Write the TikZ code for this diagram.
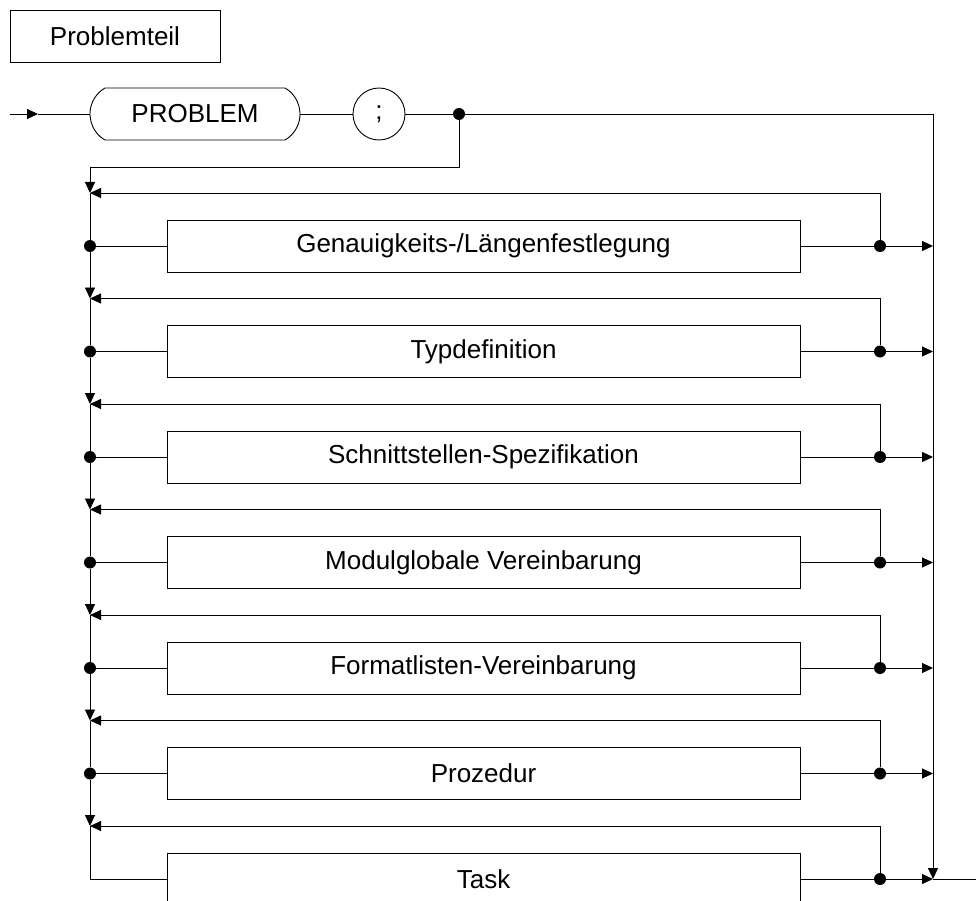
\documentclass[tikz,border=0pt]{standalone}
\usepackage{fontspec}
\setmainfont{Liberation Sans}
\usetikzlibrary{arrows.meta,shapes.misc}

\begin{document}
\begin{tikzpicture}[x=1pt,y=-1pt,
  every node/.style={font=\fontsize{26}{31}\selectfont, inner sep=0pt},
  line/.style={draw=black, line width=0.9pt},
  arr/.style={line, -{Triangle[length=11pt,width=10pt]}},
  nonterm/.style={rectangle, draw=black, line width=0.9pt, minimum width=633pt, minimum height=52pt},
  titlebox/.style={rectangle, draw=black, line width=0.9pt, minimum width=210pt, minimum height=52pt},
  keyword/.style={rounded rectangle, rounded rectangle arc length=120, draw=black, line width=0.9pt, minimum width=210pt, minimum height=52pt},
  symbol/.style={circle, draw=black, line width=0.9pt, minimum size=52pt},
  junction/.style={circle, fill=black, inner sep=0pt, minimum size=12pt}
]
\useasboundingbox (0,0) rectangle (976,901);
\clip (0,0) rectangle (976,901);

% heading
\node[titlebox] (title) at (115,36) {Problemteil};

% entry: PROBLEM ;
\coordinate (start) at (10,114);
\coordinate (startarrow) at (38,114);
\node[keyword] (kw) at (195,114) {PROBLEM};
\node[symbol] (semi) at (379,114) {;};
\node[junction] (split) at (459,114) {};
\coordinate (loopdown) at (459,167);
\coordinate (loopleft) at (90,167);
\coordinate (rtop) at (933,114);
\coordinate (rbottom) at (933,879);
\coordinate (exit) at (976,879);

\draw[arr] (start) -- (startarrow);
\draw[line] (startarrow) -- (kw.west);
\draw[line] (kw.east) -- (semi.west);
\draw[line] (semi.east) -- (split);
\draw[line] (split) -- (rtop);
\draw[arr] (rtop) -- (rbottom);
\draw[line] (rbottom) -- (exit);
\draw[line] (split) -- (loopdown) -- (loopleft);

% repeated alternatives
\foreach \i/\txt in {1/{Genauigkeits-/Längenfestlegung},
                     2/Typdefinition,
                     3/{Schnittstellen-Spezifikation},
                     4/{Modulglobale Vereinbarung},
                     5/{Formatlisten-Vereinbarung},
                     6/Prozedur,
                     7/Task}{
  \pgfmathsetmacro{\mid}{246+105.5*(\i-1)}
  \pgfmathsetmacro{\ret}{\mid-53}
  \node[nonterm] (b\i) at (483.5,\mid) {\txt};
  \coordinate (lret\i) at (90,\ret);
  \coordinate (rret\i) at (880,\ret);
  \node[junction] (rj\i) at (880,\mid) {};
  \coordinate (out\i) at (933,\mid);
  \draw[line] (b\i.east) -- (rj\i);
  \draw[arr] (rj\i) -- (out\i);
  \draw[arr] (rj\i) -- (rret\i) -- (lret\i);
}

% left column: junctions feeding each alternative
\foreach \i in {1,...,6}{
  \node[junction] (lj\i) at (90,{246+105.5*(\i-1)}) {};
  \draw[line] (lj\i) -- (b\i.west);
}
\coordinate (lcorner) at (90,879);

\draw[arr] (loopleft) -- (lret1);
\draw[line] (lret1) -- (lj1);
\draw[arr] (lj1) -- (lret2);
\draw[line] (lret2) -- (lj2);
\draw[arr] (lj2) -- (lret3);
\draw[line] (lret3) -- (lj3);
\draw[arr] (lj3) -- (lret4);
\draw[line] (lret4) -- (lj4);
\draw[arr] (lj4) -- (lret5);
\draw[line] (lret5) -- (lj5);
\draw[arr] (lj5) -- (lret6);
\draw[line] (lret6) -- (lj6);
\draw[arr] (lj6) -- (lret7);
\draw[line] (lret7) -- (lcorner) -- (b7.west);
\end{tikzpicture}
\end{document}
